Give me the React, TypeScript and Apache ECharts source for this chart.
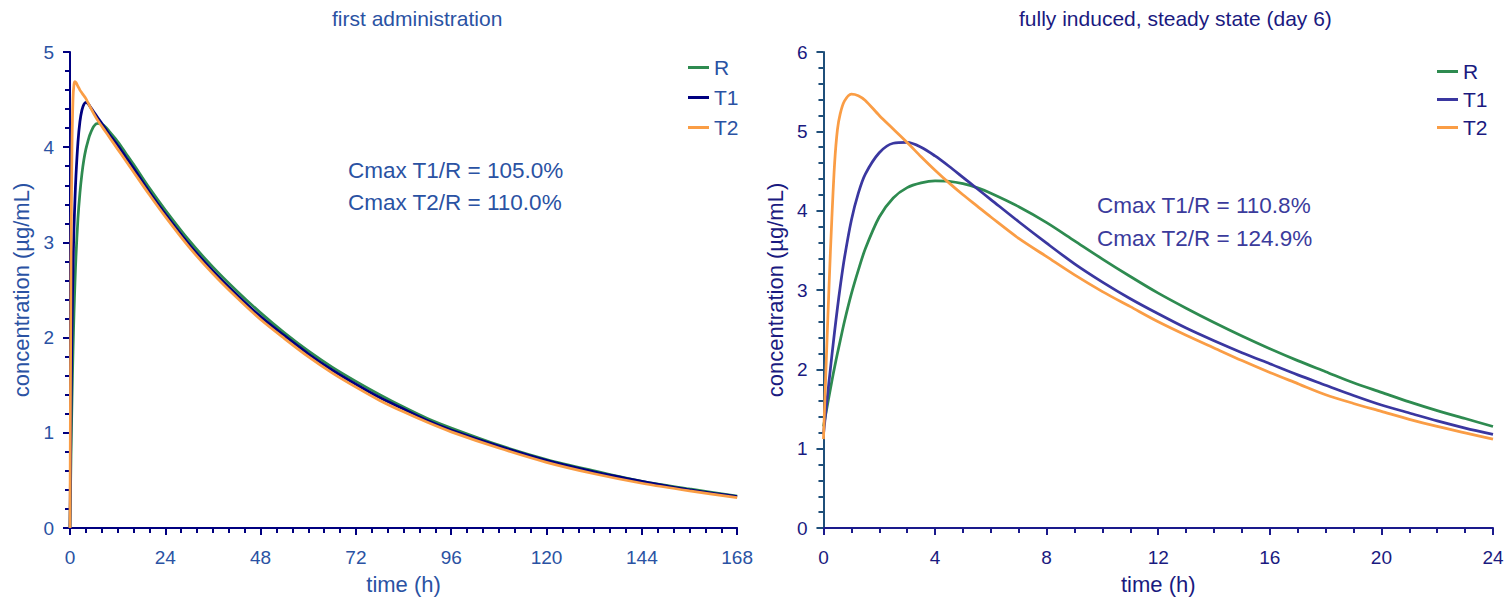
import React, { useEffect, useRef } from "react";
import * as echarts from "echarts";

const FONT = "'Liberation Sans', Arial, Helvetica, sans-serif";

// ---------- Left panel: first administration ----------
const leftTitle = "first administration";
const leftTimes = [0, 0.25, 0.5, 0.75, 1, 1.25, 1.5, 2, 2.5, 3, 3.5, 4, 4.5, 5, 6, 7, 8, 9, 10, 12, 14, 16, 20, 24, 30, 36, 42, 48, 54, 60, 66, 72, 78, 84, 90, 96, 108, 120, 132, 144, 156, 168];
const leftR = [0, 0.75, 1.35, 1.85, 2.25, 2.58, 2.85, 3.25, 3.52, 3.72, 3.87, 3.98, 4.06, 4.13, 4.22, 4.25, 4.24, 4.21, 4.16, 4.06, 3.94, 3.82, 3.57, 3.34, 3.02, 2.74, 2.49, 2.26, 2.05, 1.86, 1.69, 1.54, 1.4, 1.27, 1.15, 1.05, 0.87, 0.72, 0.6, 0.49, 0.41, 0.335];
const leftT1 = [0, 1.2, 2.1, 2.7, 3.15, 3.45, 3.7, 4.05, 4.27, 4.39, 4.45, 4.47, 4.46, 4.43, 4.37, 4.31, 4.25, 4.19, 4.13, 4.02, 3.9, 3.78, 3.53, 3.3, 2.98, 2.7, 2.45, 2.22, 2.02, 1.83, 1.66, 1.51, 1.37, 1.25, 1.13, 1.03, 0.86, 0.71, 0.59, 0.49, 0.4, 0.33];
const leftT2 = [0, 2.8, 4.0, 4.5, 4.66, 4.69, 4.68, 4.64, 4.6, 4.57, 4.54, 4.51, 4.47, 4.43, 4.35, 4.28, 4.22, 4.16, 4.1, 3.98, 3.86, 3.74, 3.5, 3.27, 2.95, 2.67, 2.42, 2.19, 1.99, 1.8, 1.63, 1.48, 1.34, 1.22, 1.11, 1.01, 0.84, 0.69, 0.57, 0.47, 0.39, 0.32];
const leftNotes = ["Cmax T1/R = 105.0%", "Cmax T2/R = 110.0%"];

// ---------- Right panel: steady state ----------
const rightTitle = "fully induced, steady state (day 6)";
const rightTimes = [0, 0.1, 0.2, 0.3, 0.4, 0.5, 0.6, 0.75, 1, 1.25, 1.5, 2, 2.5, 3, 3.5, 4, 4.5, 5, 5.5, 6, 7, 8, 9, 10, 11, 12, 13, 14, 15, 16, 17, 18, 19, 20, 21, 22, 23, 24];
const rightR = [1.28, 1.47, 1.66, 1.85, 2.03, 2.2, 2.36, 2.6, 2.95, 3.25, 3.52, 3.92, 4.16, 4.29, 4.35, 4.375, 4.37, 4.34, 4.29, 4.22, 4.05, 3.85, 3.62, 3.39, 3.17, 2.96, 2.77, 2.59, 2.42, 2.26, 2.11, 1.97, 1.83, 1.71, 1.59, 1.48, 1.38, 1.28];
const rightT1 = [1.18, 1.52, 1.85, 2.17, 2.48, 2.77, 3.04, 3.4, 3.88, 4.22, 4.46, 4.73, 4.85, 4.86, 4.8, 4.69, 4.56, 4.42, 4.28, 4.14, 3.86, 3.59, 3.33, 3.1, 2.89, 2.7, 2.52, 2.36, 2.21, 2.07, 1.93, 1.8, 1.67, 1.55, 1.45, 1.35, 1.26, 1.18];
const rightT2 = [1.12, 2.1, 3.05, 3.9, 4.6, 5.02, 5.22, 5.38, 5.47, 5.45, 5.39, 5.2, 5.03, 4.86, 4.68, 4.51, 4.35, 4.2, 4.06, 3.92, 3.65, 3.42, 3.19, 2.98, 2.79, 2.6, 2.43, 2.27, 2.11, 1.96, 1.82, 1.68, 1.57, 1.47, 1.37, 1.28, 1.2, 1.12];
const rightNotes = ["Cmax T1/R = 110.8%", "Cmax T2/R = 124.9%"];

const seriesNames = ["R", "T1", "T2"];
const xName = "time (h)";
const yName = "concentration (µg/mL)";

const pairs = (t: number[], v: number[]) => t.map((x, i) => [x, v[i]]);

type PanelCfg = {
  title: string;
  titleLeft: any;
  titleColor: string;
  gridLeft: number;
  gridWidth: number;
  xMax: number;
  xInterval: number;
  xMinor: number;
  yMax: number;
  xAxisColor: string;
  yAxisColor: string;
  labelColor: string;
  legendLeft: number;
  legendTop: number;
  legendGap: number;
  legendColor: string;
  noteX: number;
  noteY: number[];
  noteColor: string;
  notes: string[];
  times: number[];
  values: number[][];
  colors: string[];
};

function buildOption(c: PanelCfg): any {
  const tickStyle = (color: string) => ({ color, width: 2 });
  const axisCommon = (color: string) => ({
    type: "value",
    axisLine: { show: true, lineStyle: { color, width: 2 } },
    axisTick: { show: true, length: 7, lineStyle: tickStyle(color) },
    splitLine: { show: false },
    minorSplitLine: { show: false },
    nameLocation: "middle",
    nameTextStyle: { color: c.labelColor, fontSize: 22, fontFamily: FONT },
  });
  return {
    animation: false,
    backgroundColor: "#ffffff",
    title: {
      text: c.title,
      left: c.titleLeft,
      top: 8,
      padding: 0,
      textStyle: { color: c.titleColor, fontSize: 21, fontWeight: "normal", fontFamily: FONT },
    },
    grid: { left: c.gridLeft, top: 52, width: c.gridWidth, height: 480 },
    xAxis: {
      ...axisCommon(c.xAxisColor),
      min: 0,
      max: c.xMax,
      interval: c.xInterval,
      minorTick: { show: true, length: 5, splitNumber: c.xMinor, lineStyle: tickStyle(c.xAxisColor) },
      axisLabel: { color: c.labelColor, fontSize: 19, margin: 20, fontFamily: FONT },
      name: xName,
      nameGap: 45,
    },
    yAxis: {
      ...axisCommon(c.yAxisColor),
      min: 0,
      max: c.yMax,
      interval: 1,
      minorTick: { show: true, length: 5, splitNumber: 5, lineStyle: tickStyle(c.yAxisColor) },
      axisLabel: { color: c.labelColor, fontSize: 19, margin: 16, fontFamily: FONT },
      name: yName,
      nameGap: 37,
    },
    legend: {
      orient: "vertical",
      left: c.legendLeft,
      top: c.legendTop,
      padding: 0,
      itemGap: c.legendGap,
      itemWidth: 21,
      itemHeight: 3,
      icon: "rect",
      data: seriesNames,
      textStyle: { color: c.legendColor, fontSize: 21, fontFamily: FONT },
    },
    graphic: c.notes.map((n, i) => ({
      type: "text",
      x: c.noteX,
      y: c.noteY[i],
      style: {
        text: n,
        fill: c.noteColor,
        fontSize: 22.5,
        fontFamily: FONT,
        verticalAlign: "middle",
        align: "left",
      },
    })),
    series: seriesNames.map((name, i) => ({
      name,
      type: "line",
      data: pairs(c.times, c.values[i]),
      showSymbol: false,
      symbol: "none",
      smooth: 0.3,
      lineStyle: { color: c.colors[i], width: 2.75 },
      itemStyle: { color: c.colors[i] },
    })),
  };
}

const leftCfg: PanelCfg = {
  title: leftTitle,
  titleLeft: 332,
  titleColor: "#2a52a3",
  gridLeft: 70,
  gridWidth: 675,
  xMax: 168,
  xInterval: 24,
  xMinor: 6,
  yMax: 5,
  xAxisColor: "#000080",
  yAxisColor: "#000080",
  labelColor: "#2a52a3",
  legendLeft: 688,
  legendTop: 57,
  legendGap: 9,
  legendColor: "#2a52a3",
  noteX: 348,
  noteY: [170, 202],
  noteColor: "#2a52a3",
  notes: leftNotes,
  times: leftTimes,
  values: [leftR, leftT1, leftT2],
  colors: ["#2e8b50", "#000080", "#fa9d45"],
};

const rightCfg: PanelCfg = {
  title: rightTitle,
  titleLeft: 263,
  titleColor: "#1a1a80",
  gridLeft: 65,
  gridWidth: 672,
  xMax: 24,
  xInterval: 4,
  xMinor: 4,
  yMax: 6,
  xAxisColor: "#1a1a8c",
  yAxisColor: "#1f4f7a",
  labelColor: "#1a1a80",
  legendLeft: 681,
  legendTop: 61,
  legendGap: 7,
  legendColor: "#1a1a80",
  noteX: 341,
  noteY: [205, 238],
  noteColor: "#3b3b9c",
  notes: rightNotes,
  times: rightTimes,
  values: [rightR, rightT1, rightT2],
  colors: ["#2e8b50", "#3a37a0", "#fa9d45"],
};

function Panel({ cfg, left }: { cfg: PanelCfg; left: number }) {
  const ref = useRef<HTMLDivElement>(null);
  useEffect(() => {
    if (!ref.current) return;
    const chart = echarts.init(ref.current, undefined, { renderer: "svg" });
    chart.setOption(buildOption(cfg));
    return () => chart.dispose();
  }, [cfg]);
  return (
    <div
      ref={ref}
      style={{ position: "absolute", left, top: 0, width: 756, height: 600 }}
    />
  );
}

export default function App() {
  useEffect(() => {
    document.body.style.margin = "0";
  }, []);
  return (
    <div style={{ position: "relative", width: 1512, height: 600, overflow: "hidden", background: "#fff" }}>
      <Panel cfg={leftCfg} left={0} />
      <Panel cfg={rightCfg} left={756} />
    </div>
  );
}
